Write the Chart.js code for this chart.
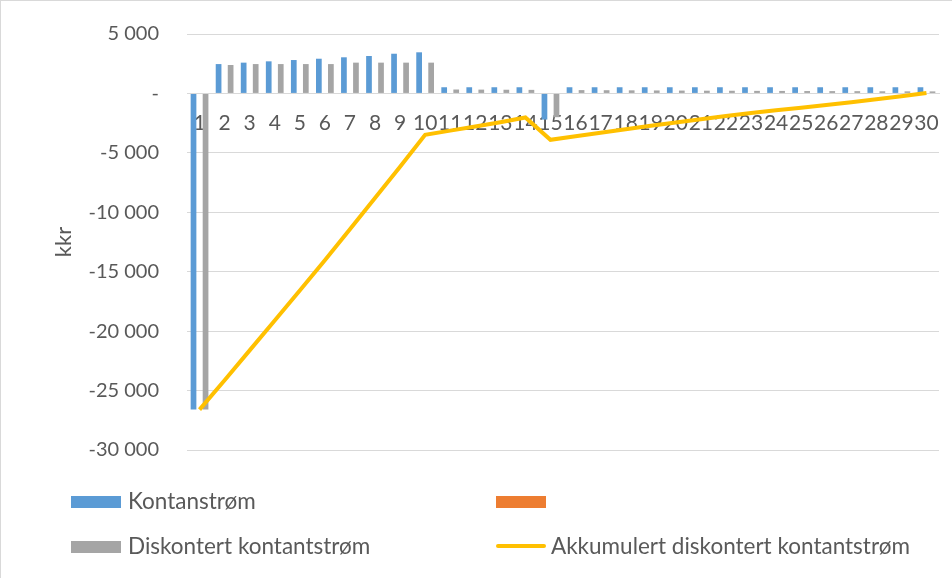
<!DOCTYPE html>
<html lang="no">
<head>
    <meta charset="UTF-8">
    <title>Kontantstrøm</title>
    <script src="https://cdn.jsdelivr.net/npm/chart.js"></script>
    <style>
        html, body {
            margin: 0;
            padding: 0;
            background: #fff;
            overflow: hidden;
        }
        .frame {
            position: relative;
            width: 952px;
            height: 578px;
            box-sizing: border-box;
            border-left: 1px solid #d9d9d9;
            border-top: 1px solid #d9d9d9;
            font-family: Lato, sans-serif;
            color: #595959;
            overflow: hidden;
        }
        #chart {
            position: absolute;
            left: 0;
            top: -7px;
        }
        .legend-item {
            position: absolute;
            font-size: 22.5px;
            line-height: 26px;
            white-space: nowrap;
        }
        .legend-item .swatch {
            display: inline-block;
            width: 50px;
            height: 12px;
            margin-right: 7px;
            vertical-align: 1px;
        }
        .legend-item .swatch.line {
            height: 4px;
            border-radius: 2px;
            vertical-align: 6px;
            margin-right: 5px;
        }
    </style>
</head>
<body>
<div class="frame">
    <canvas id="chart" width="952" height="585"></canvas>
    <div class="legend-item" style="left:70px; top:487px;"><span class="swatch" style="background:#5b9bd5"></span>Kontanstrøm</div>
    <div class="legend-item" style="left:495px; top:487px;"><span class="swatch" style="background:#ed7d31"></span></div>
    <div class="legend-item" style="left:70px; top:532px;"><span class="swatch" style="background:#a5a5a5"></span>Diskontert kontantstrøm</div>
    <div class="legend-item" style="left:495px; top:532px;"><span class="swatch line" style="background:#ffc000"></span>Akkumulert diskontert kontantstrøm</div>
</div>

<script>
// år
const years = ['1','2','3','4','5','6','7','8','9','10','11','12','13','14','15',
    '16','17','18','19','20','21','22','23','24','25','26','27','28','29','30'];

// kkr, lest av figuren
const kontantstrom = [-26600, 2470, 2590, 2700, 2810, 2920, 3040, 3150, 3340, 3460,
    520, 520, 520, 520, -2200, 520, 520, 520, 520, 520,
    520, 520, 520, 520, 520, 520, 520, 520, 520, 520];

const tomSerie = [null, null, null, null, null, null, null, null, null, null,
    null, null, null, null, null, null, null, null, null, null,
    null, null, null, null, null, null, null, null, null, null];

const diskontert = [-26600, 2390, 2470, 2470, 2470, 2470, 2590, 2590, 2590, 2590,
    330, 320, 310, 300, -2000, 280, 270, 260, 250, 240,
    230, 225, 215, 210, 200, 195, 190, 180, 175, 170];

const akkumulert = [-26600, -24130, -21620, -19110, -16580, -14040, -11420, -8800, -6160, -3480,
    -3130, -2780, -2420, -2020, -3900, -3600, -3300, -3010, -2720, -2440,
    -2170, -1900, -1650, -1420, -1200, -980, -740, -490, -230, 40];

const yTicks = [5000, 0, -5000, -10000, -15000, -20000, -25000, -30000];

const tekst = '#595959';
const rutenett = '#d9d9d9';

function kkr(v) {
    if (v === 0) return '-';
    const s = Math.abs(v).toString().replace(/\B(?=(\d{3})+(?!\d))/g, ' ');
    return (v < 0 ? '-' : '') + s;
}

const ctx = document.getElementById('chart').getContext('2d');
new Chart(ctx, {
    type: 'bar',
    data: {
        labels: years,
        datasets: [
            {
                label: 'Akkumulert diskontert kontantstrøm',
                type: 'line',
                data: akkumulert,
                borderColor: '#ffc000',
                borderWidth: 4,
                pointRadius: 0,
                tension: 0,
                order: 0
            },
            {
                label: 'Kontanstrøm',
                data: kontantstrom,
                backgroundColor: '#5b9bd5',
                order: 1
            },
            {
                label: '',
                data: tomSerie,
                backgroundColor: '#ed7d31',
                order: 1
            },
            {
                label: 'Diskontert kontantstrøm',
                data: diskontert,
                backgroundColor: '#a5a5a5',
                order: 1
            }
        ]
    },
    options: {
        responsive: false,
        animation: false,
        categoryPercentage: 0.72,
        barPercentage: 0.95,
        layout: {
            padding: { top: 0, right: 14, bottom: 129, left: 0 }
        },
        plugins: {
            legend: { display: false },
            tooltip: { enabled: false }
        },
        scales: {
            x: {
                position: { y: 0 },
                grid: { display: false },
                border: { display: true, color: rutenett, width: 1 },
                ticks: {
                    color: tekst,
                    font: { family: 'Lato', size: 21 },
                    maxRotation: 0,
                    autoSkip: false,
                    padding: 9
                }
            },
            y: {
                min: -30000,
                max: 5000,
                afterFit: s => { s.width = 186; },
                afterBuildTicks: s => { s.ticks = yTicks.map(v => ({ value: v })); },
                grid: { color: rutenett, drawTicks: false },
                border: { display: false },
                ticks: {
                    color: tekst,
                    font: { family: 'Lato', size: 20 },
                    padding: 28,
                    callback: v => kkr(v)
                },
                title: {
                    display: true,
                    text: 'kkr',
                    color: tekst,
                    font: { family: 'Lato', size: 22 },
                    padding: { top: 50 }
                }
            }
        }
    }
});
</script>
</body>
</html>
